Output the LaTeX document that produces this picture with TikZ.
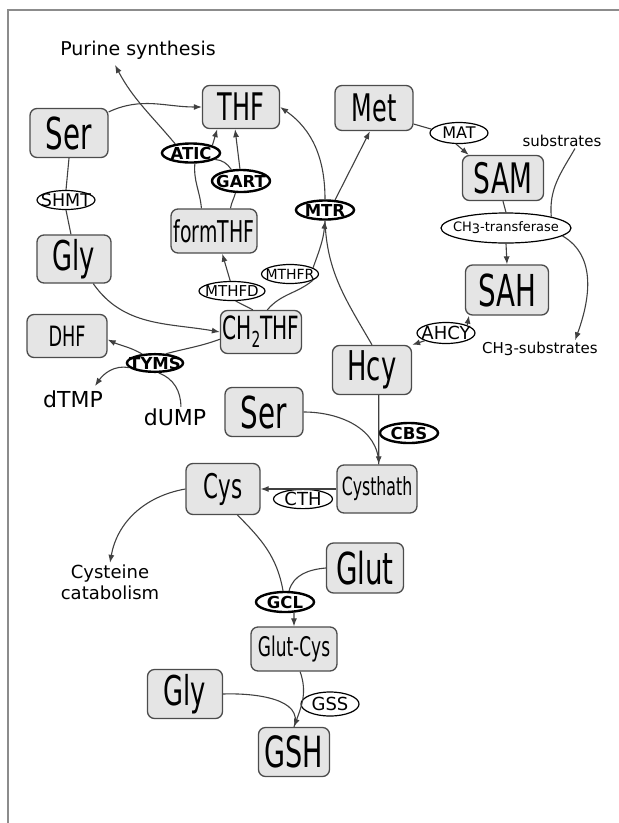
\documentclass[tikz,border=0pt]{standalone}
\usepackage{fontspec}
\setmainfont{DejaVu Sans}
\newfontfamily\narrowfont[FakeStretch=0.63]{DejaVu Sans}
\usetikzlibrary{shapes.geometric,arrows.meta}

\newcommand{\ez}[1]{\makebox[0pt]{#1}}
\newcommand{\fs}[1]{\fontsize{#1}{#1}\selectfont}

\tikzset{
  met/.style={draw=black!70, fill=black!10, rounded corners=7pt,
    line width=1.3pt, inner sep=0pt, minimum width=78pt,
    minimum height=47pt, font=\narrowfont\fs{#1}},
  met/.default=40,
  enz/.style={ellipse, draw, fill=white, line width=1.2pt, inner sep=0pt,
    minimum width=58pt, minimum height=19pt, font=\fs{#1}},
  enz/.default=17.5,
  benz/.style={enz, line width=2.4pt, font=\fs{16.5}\bfseries},
  lbl/.style={inner sep=1.5pt, font=\fs{#1}},
  flow/.style={draw=black!75, line width=1.1pt},
}

\begin{document}
\begin{tikzpicture}[x=1pt, y=1pt, >={Latex[length=8pt,width=6pt]}]
  \useasboundingbox (0,0) rectangle (619,-823);
  \draw[black!45, line width=1.2pt] (8,-823) -- (8,-10) -- (619,-10);

  % --- metabolites ---
  \node[met=44, minimum height=49pt] (ser1) at (69,-133) {Ser};
  \node[met=38, minimum width=77pt, minimum height=43pt] (thf) at (241,-107) {THF};
  \node[met=38, minimum height=45pt] (met) at (374,-108) {Met};
  \node[met=42, minimum width=81pt, minimum height=45pt] (sam) at (503,-178) {SAM};
  \node[met=30, minimum width=86pt, minimum height=44pt] (form) at (214,-231) {formTHF};
  \node[met=41, minimum width=74pt, minimum height=48pt] (gly1) at (74,-259) {Gly};
  \node[met=32, minimum width=81pt, minimum height=43pt] (ch2) at (261,-332)
    {CH\raisebox{-8pt}{\fs{22}2}THF};
  \node[met=28, minimum width=80pt, minimum height=43pt] (dhf) at (67,-336) {DHF};
  \node[met=44, minimum height=49pt] (ser2) at (264,-412) {Ser};
  \node[met=41, minimum width=79pt, minimum height=49pt] (hcy) at (372,-370) {Hcy};
  \node[met=44, minimum width=83pt, minimum height=50pt] (sah) at (507,-290) {SAH};
  \node[met=25, minimum width=80pt, minimum height=48pt] (cyst) at (377,-489) {Cysthath};
  \node[met=34, minimum width=74pt, minimum height=51pt] (cys) at (223,-489) {Cys};
  \node[met=44, minimum width=77pt, minimum height=50pt] (glut) at (365,-568) {Glut};
  \node[met=27, minimum width=86pt, minimum height=44pt] (gcys) at (294,-649) {Glut-Cys};
  \node[met=41, minimum width=75pt, minimum height=49pt] (gly2) at (185,-694) {Gly};
  \node[met=43, minimum width=71pt, minimum height=49pt] (gsh) at (294,-752) {GSH};

  % --- enzymes ---
  \node[benz] (atic) at (191,-153) {\ez{ATIC}};
  \node[benz, minimum height=22pt] (gart) at (241,-181) {\ez{GART}};
  \node[enz] (shmt) at (66,-200) {\ez{SHMT}};
  \node[enz=15, minimum width=66pt] (mthfd) at (232,-291) {\ez{MTHFD}};
  \node[enz=14, minimum width=57pt] (mthfr) at (290,-274) {\ez{MTHFR}};
  \node[benz] (mtr) at (325,-210) {\ez{MTR}};
  \node[benz, minimum width=56pt, minimum height=17pt] (tyms) at (155,-363) {\ez{TYMS}};
  \node[enz=16, minimum height=21pt] (mat) at (459,-133) {\ez{MAT}};
  \node[enz=13, minimum width=130pt, minimum height=30pt] (ch3t) at (506,-228)
    {\ez{CH\raisebox{-0.3ex}{3}-transferase}};
  \node[enz=18, minimum height=21pt] (ahcy) at (446,-333) {\ez{AHCY}};
  \node[benz, minimum height=20pt] (cbs) at (409,-433) {\ez{CBS}};
  \node[enz=18, minimum width=59pt, minimum height=18pt] (cth) at (303,-499) {\ez{CTH}};
  \node[benz, minimum height=20pt] (gcl) at (285,-602) {\ez{GCL}};
  \node[enz=18, minimum height=24pt] (gss) at (330,-704) {\ez{GSS}};

  % --- free labels ---
  \node[lbl=19] (pur) at (138,-50) {Purine synthesis};
  \node[lbl=15] (subs) at (562,-141) {substrates};
  \node[lbl=15] (ch3s) at (540,-349) {CH\raisebox{-0.3ex}{3}-substrates};
  \node[lbl=22] (dtmp) at (73,-399) {dTMP};
  \node[lbl=22] (dump) at (175,-417) {dUMP};
  \node[inner sep=1.5pt, align=center, font=\fontsize{18}{21}\selectfont] (cat)
    at (110,-582) {Cysteine\\catabolism};
  \coordinate (purtip) at (115,-65);
  \coordinate (dtmptip) at (95,-386);

  % --- folate cycle ---
  \draw[flow,->] (ser1.28) to[out=25,in=180] (thf.west);
  \draw[flow] (ser1.south) -- (shmt.north);
  \draw[flow] (shmt.south) -- (gly1.97);
  \draw[flow,->] (gly1.-52) to[out=-55,in=170] (ch2.west);
  \draw[flow] (ch2.190) to[out=200,in=15] (tyms.40);
  \draw[flow,->] (tyms.145) to[out=150,in=-25] (dhf.-5);
  \draw[flow,->] (tyms.190) to[out=170,in=55] (dtmptip);
  \draw[flow] (dump.60) to[out=90,in=-20] (tyms.-70);
  \draw[flow] (ch2.110) -- (mthfd.-70);
  \draw[flow,->] (mthfd.100) -- (form.-70);
  \draw[flow] (form.119) to[out=95,in=-95] (atic.-70);
  \draw[flow] (form.54) to[out=80,in=-105] (gart.-115);
  \draw[flow] (atic.-15) to[out=-5,in=125] (gart.130);
  \draw[flow,->] (atic.north east) -- (thf.223);
  \draw[flow,->] (gart.95) -- (thf.255);
  \draw[flow,->] (atic.150) to[out=130,in=-62] (purtip);
  \draw[flow] (ch2.74) to[out=50,in=-140] (mthfr.-15);
  \draw[flow,->] (mthfr.15) to[out=70,in=-95] (mtr.south);
  \draw[flow] (hcy.north) to[out=120,in=-88] (mtr.south);
  \draw[flow,->] (mtr.north) to[out=90,in=-35] (thf.east);
  \draw[flow,->] (mtr.45) -- (met.-100);

  % --- methionine cycle ---
  \draw[flow] (met.-22) -- (mat.172);
  \draw[flow,->] (mat.-105) -- (sam.146);
  \draw[flow] (sam.south) -- (ch3t.north);
  \draw[flow,->] (ch3t.south) -- (sah.north);
  \draw[flow] (subs.-30) to[out=-120,in=95] (ch3t.14);
  \draw[flow,->] (ch3t.-8) to[out=-30,in=70] (ch3s.14);
  \draw[flow,->] (ahcy.20) -- (sah.214);
  \draw[flow,->] (ahcy.200) -- (hcy.north east);

  % --- transsulfuration, glutathione ---
  \draw[flow,->] (hcy.-75) -- (cyst.86);
  \draw[flow] (ser2.east) to[out=0,in=90] (cyst.86);
  \draw[flow,->] (cyst.west) -- (cys.east);
  \draw[flow,->] (cys.west) to[out=190,in=80] (cat.north);
  \draw[flow] (cys.-61) to[out=-45,in=100] (gcl.100);
  \draw[flow] (glut.west) to[out=185,in=75] (gcl.70);
  \draw[flow,->] (gcl.-50) -- (gcys.north);
  \draw[flow,->] (gcys.-75) to[out=-70,in=70] (gsh.north);
  \draw[flow] (gly2.east) to[out=2,in=70] (gsh.north);
\end{tikzpicture}
\end{document}
